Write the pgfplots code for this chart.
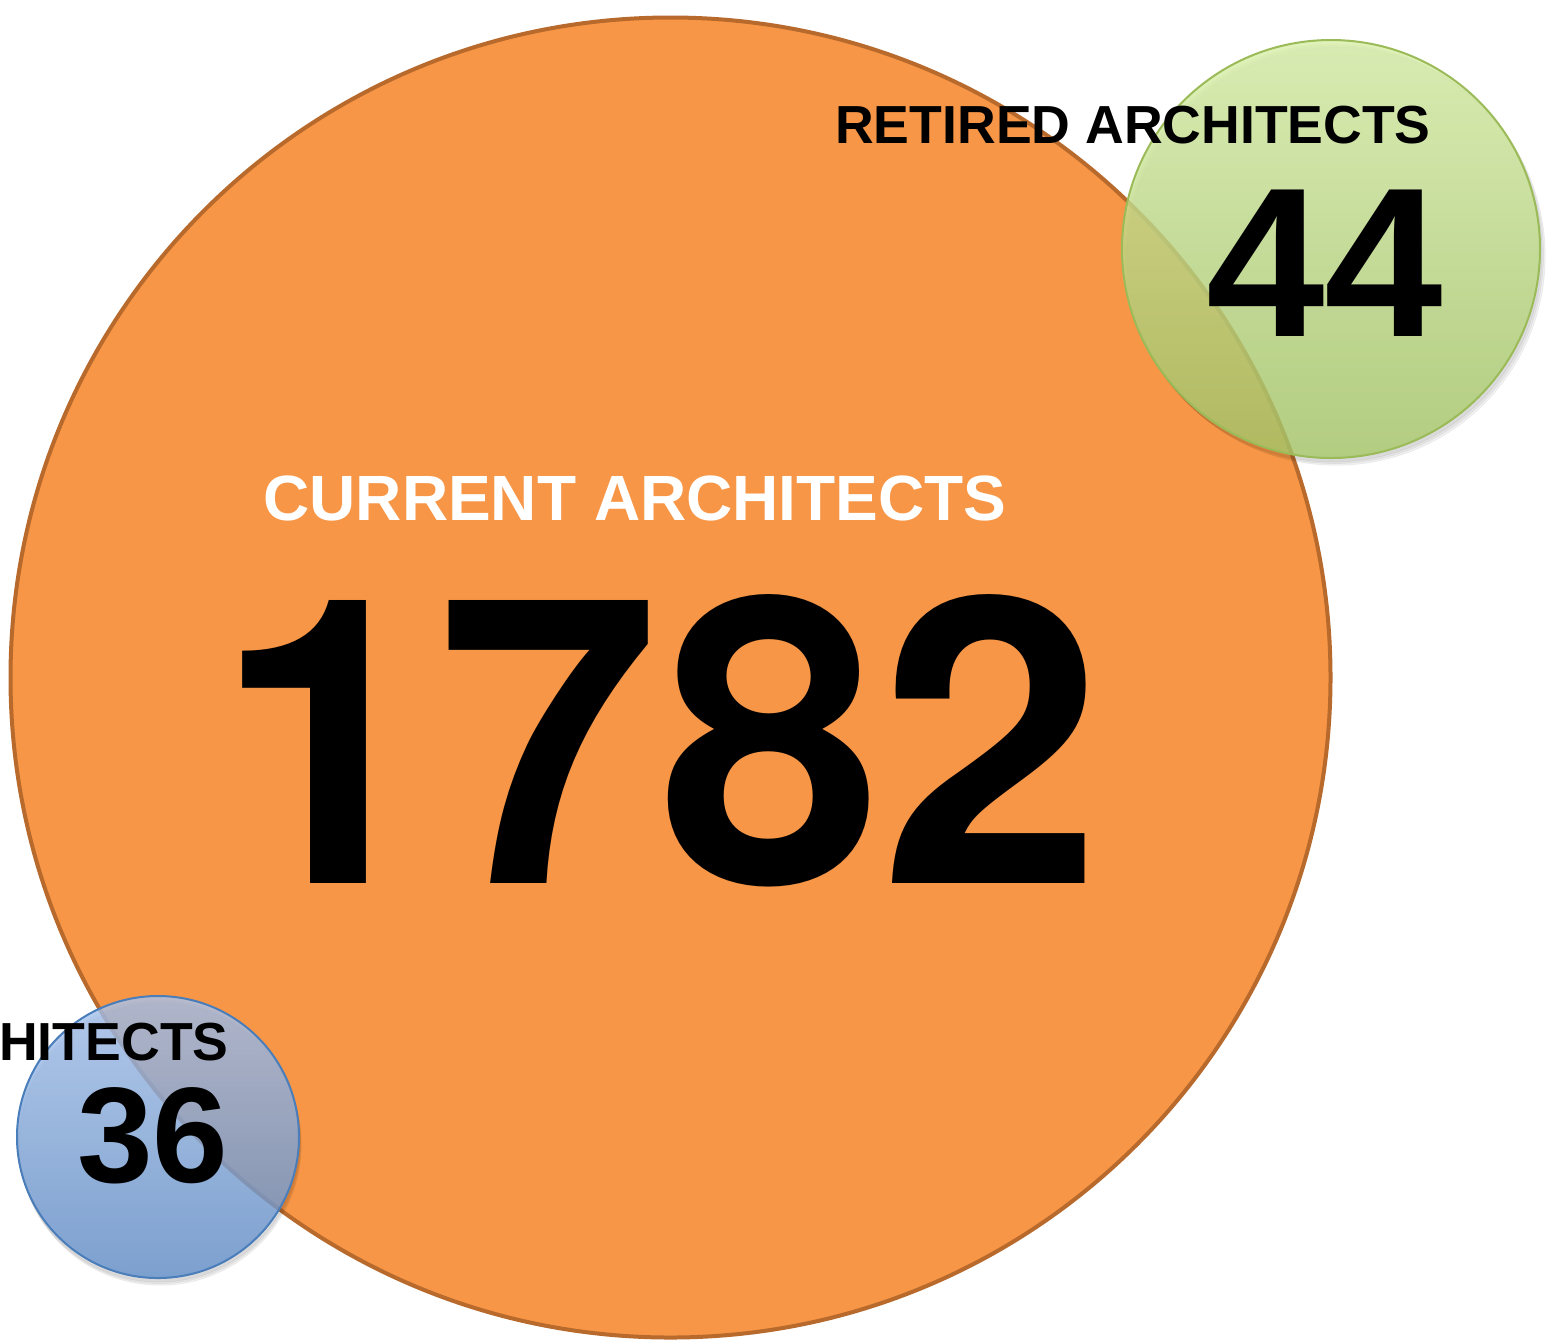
\documentclass[border=0pt]{standalone}
\usepackage{pgfplots}
\usepackage{pgfplotstable}
\pgfplotsset{compat=1.18}
\usepackage{fontspec}
\setmainfont{Liberation Sans}
\newfontfamily\heros{TeX Gyre Heros}

\definecolor{orFill}{HTML}{F79646}
\definecolor{orEdge}{HTML}{B8692C}
\definecolor{grTop}{HTML}{D8EFA8}
\definecolor{grBot}{HTML}{A8C96A}
\definecolor{grEdge}{HTML}{9BBB59}
\definecolor{blTop}{HTML}{A8C4EE}
\definecolor{blBot}{HTML}{6591CB}
\definecolor{blEdge}{HTML}{4A7EBB}

\pgfdeclareplotmark{orangeball}{%
  \path[fill=orFill, draw=orEdge, line width=2pt] (0,0) circle[radius=\pgfplotmarksize];}
\pgfdeclareplotmark{greenball}{%
  \fill[black, opacity=0.05] (1pt,-2pt) circle[radius=\pgfplotmarksize];
  \fill[black, opacity=0.05] (1.8pt,-2.8pt) circle[radius=\pgfplotmarksize];
  \fill[black, opacity=0.05] (2.6pt,-3.6pt) circle[radius=\pgfplotmarksize];
  \shade[top color=grTop, bottom color=grBot, opacity=0.8] (0,0) circle[radius=\pgfplotmarksize];
  \draw[grEdge, line width=1pt] (0,0) circle[radius=\pgfplotmarksize];}
\pgfdeclareplotmark{blueball}{%
  \fill[black, opacity=0.05] (0.5pt,-2pt) circle[radius=\pgfplotmarksize];
  \fill[black, opacity=0.05] (0.8pt,-2.8pt) circle[radius=\pgfplotmarksize];
  \fill[black, opacity=0.05] (1.1pt,-3.6pt) circle[radius=\pgfplotmarksize];
  \shade[top color=blTop, bottom color=blBot, opacity=0.8] (0,0) circle[radius=\pgfplotmarksize];
  \draw[blEdge, line width=1pt] (0,0) circle[radius=\pgfplotmarksize];}

% x, y in pixels of the picture (y from the top), r = radius in pixels
\pgfplotstableread{
x y r value
670.5 677.5 660 1782
}\current
\pgfplotstableread{
x y r value
1331 249 209 44
}\retired
\pgfplotstableread{
x y r value
158 1137 141 36
}\other

\pgfplotsset{bubble/.style={scatter, only marks,
  point meta={\thisrow{r}}, point meta min=0, point meta max=1000,
  visualization depends on={\thisrow{r} \as \rad},
  scatter/@pre marker code/.append style={/tikz/mark size=0.5*\rad pt}}}

\begin{document}
\begin{tikzpicture}
\begin{axis}[scale only axis, width=778pt, height=670.5pt,
  xmin=0, xmax=1556, ymin=0, ymax=1341, y dir=reverse,
  hide axis, clip=false]
\addplot[bubble, mark=orangeball] table {\current};
\addplot[bubble, mark=greenball] table {\retired};
\addplot[bubble, mark=blueball] table {\other};
\coordinate (tCur) at (axis cs:635,520);
\coordinate (vCur) at (axis cs:659,883);
\coordinate (tRet) at (axis cs:1133,144);
\coordinate (vRet) at (axis cs:1325,337);
\coordinate (tOth) at (axis cs:229,1060);
\coordinate (vOth) at (axis cs:153,1182);
\end{axis}
\node[anchor=base, inner sep=0, text=white, font=\fontsize{32}{36}\selectfont\bfseries] at (tCur) {CURRENT ARCHITECTS};
\node[anchor=base, inner sep=0, font=\fontsize{199.6}{200}\selectfont\heros\bfseries] at (vCur) {1782};
\node[anchor=base, inner sep=0, font=\fontsize{26.8}{30}\selectfont\bfseries] at (tRet) {RETIRED ARCHITECTS};
\node[anchor=base, inner sep=0, font=\fontsize{106.5}{110}\selectfont\bfseries] at (vRet) {44};
\node[anchor=base east, inner sep=0, font=\fontsize{26.8}{30}\selectfont\bfseries] at (tOth) {ARCHITECTS};
\node[anchor=base, inner sep=0, font=\fontsize{68}{72}\selectfont\bfseries] at (vOth) {36};
\pgfresetboundingbox
\path[use as bounding box] (current axis.south west) rectangle (current axis.north east);
\end{tikzpicture}
\end{document}
